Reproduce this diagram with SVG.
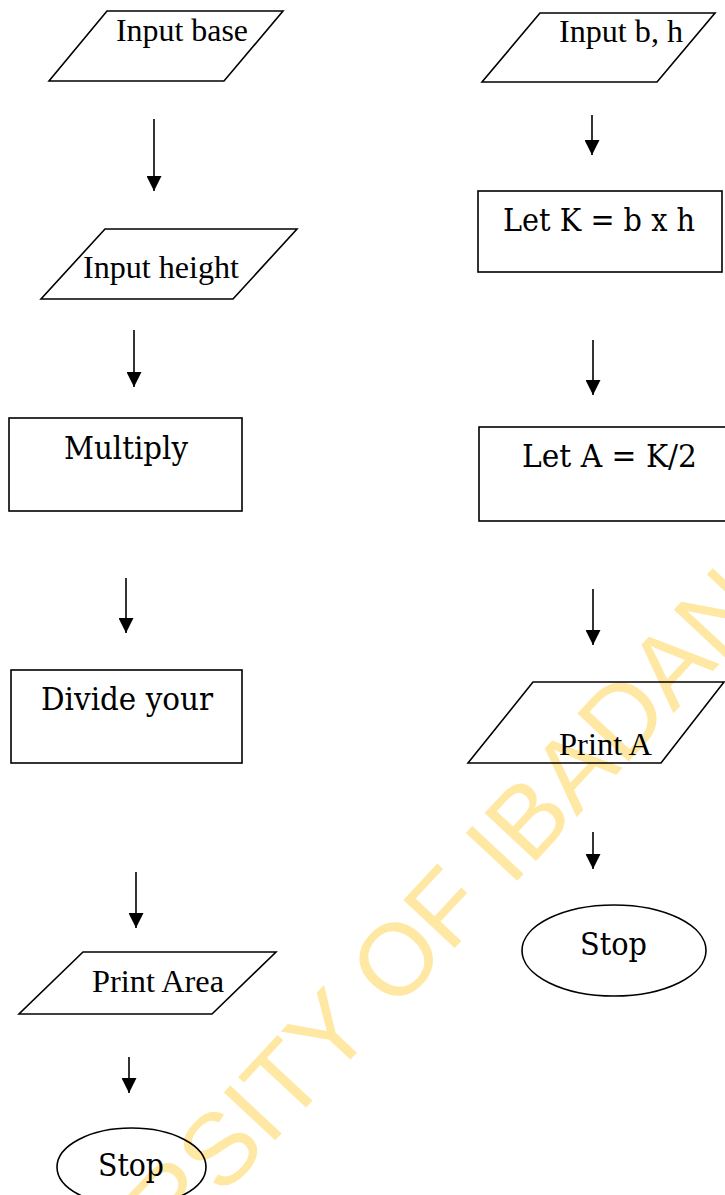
<svg xmlns="http://www.w3.org/2000/svg" width="725" height="1195" viewBox="0 0 725 1195">
<style>
.sh{fill:none;stroke:#000;stroke-width:1.6}
.tt{font-family:"Liberation Serif","Times New Roman",serif;font-size:32px;fill:#000}
.bk{font-family:"DejaVu Serif","Liberation Serif",serif;font-size:31px;fill:#000}
.cn{stroke:#000;stroke-width:1.6;fill:none;marker-end:url(#ah)}
.wm{font-family:"Liberation Sans",Arial,sans-serif;font-size:102px;fill:#FFE8A3}
</style>
<defs>
<marker id="ah" markerUnits="userSpaceOnUse" markerWidth="16" markerHeight="15" refX="15" refY="7.5" orient="auto">
<path d="M0,0 L15,7.5 L0,15 Z" fill="#000"/>
</marker>
</defs>
<rect width="725" height="1195" fill="#fff"/>
<g id="watermark">
<text class="wm" transform="translate(172,1251) rotate(-47)">RSITY OF IBADAN</text>
</g>
<g id="connectors">
<line class="cn" x1="154" y1="119" x2="154" y2="191"/>
<line class="cn" x1="134" y1="330" x2="134" y2="387"/>
<line class="cn" x1="126" y1="578" x2="126" y2="633"/>
<line class="cn" x1="136" y1="872" x2="136" y2="928"/>
<line class="cn" x1="129" y1="1057" x2="129" y2="1093"/>
<line class="cn" x1="592" y1="115" x2="592" y2="155"/>
<line class="cn" x1="593" y1="340" x2="593" y2="395"/>
<line class="cn" x1="593" y1="589" x2="593" y2="645"/>
<line class="cn" x1="593" y1="832" x2="593" y2="869"/>
</g>
<g id="input-base">
<polygon class="sh" points="107,11 283,11 224,81 49,81"/>
<text class="tt" x="116" y="41" textLength="132" lengthAdjust="spacingAndGlyphs">Input base</text>
</g>
<g id="input-height">
<polygon class="sh" points="105,229 297,229 233,299 41,299"/>
<text class="tt" x="83" y="278" textLength="156" lengthAdjust="spacingAndGlyphs">Input height</text>
</g>
<g id="multiply">
<rect class="sh" x="9" y="418" width="233" height="93"/>
<text class="bk" x="64" y="459" textLength="124" lengthAdjust="spacingAndGlyphs">Multiply</text>
</g>
<g id="divide">
<rect class="sh" x="11" y="670" width="231" height="93"/>
<text class="bk" x="41" y="710" textLength="172" lengthAdjust="spacingAndGlyphs">Divide your</text>
</g>
<g id="print-area">
<polygon class="sh" points="83,952 276,952 212,1014 19,1014"/>
<text class="tt" x="92" y="992" textLength="132" lengthAdjust="spacingAndGlyphs">Print Area</text>
</g>
<g id="stop-left">
<ellipse class="sh" cx="131.5" cy="1167" rx="74.5" ry="39"/>
<text class="bk" x="98" y="1176" textLength="66" lengthAdjust="spacingAndGlyphs">Stop</text>
</g>
<g id="input-bh">
<polygon class="sh" points="540,13 715,13 657,82 482,82"/>
<text class="tt" x="559" y="42" textLength="124" lengthAdjust="spacingAndGlyphs">Input b, h</text>
</g>
<g id="let-k">
<rect class="sh" x="478" y="191" width="244" height="81"/>
<text class="bk" x="503" y="231" textLength="192" lengthAdjust="spacingAndGlyphs">Let K = b x h</text>
</g>
<g id="let-a">
<rect class="sh" x="479" y="427" width="260" height="94"/>
<text class="bk" x="522" y="467" textLength="175" lengthAdjust="spacingAndGlyphs">Let A = K/2</text>
</g>
<g id="print-a">
<polygon class="sh" points="533,682 724,682 661,763 468,763"/>
<text class="tt" x="559" y="755" textLength="93" lengthAdjust="spacingAndGlyphs">Print A</text>
</g>
<g id="stop-right">
<ellipse class="sh" cx="614" cy="950.5" rx="92" ry="45.5"/>
<text class="bk" x="580" y="955" textLength="67" lengthAdjust="spacingAndGlyphs">Stop</text>
</g>
</svg>
